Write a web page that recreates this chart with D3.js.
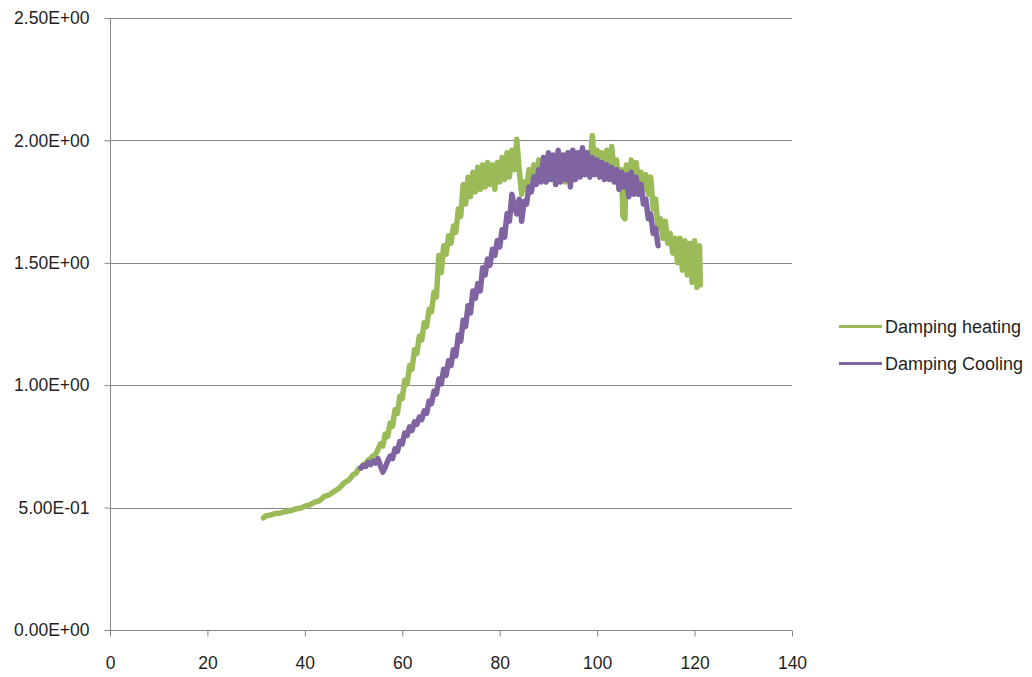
<!DOCTYPE html>
<html>
<head>
<meta charset="utf-8">
<script src="https://cdn.jsdelivr.net/npm/d3@7"></script>
<style>
  html, body { margin: 0; padding: 0; background: #fff; }
  svg { display: block; }
</style>
</head>
<body>
<svg id="chart" width="1032" height="677"></svg>
<script>
// Damping vs temperature, heating and cooling runs
const seriesNames = ["Damping heating", "Damping Cooling"];
const seriesColors = ["#9BBB59", "#8064A2"];

const heatingTemp = [
  31.5,32,33,34,35,36,37,38,39,40,41,42,43,44,45,46,47,48,49,50,
  50.5,51,51.5,52,52.5,53,53.5,54,54.5,55,55.5,56,56.5,57,57.5,58,58.5,59,59.5,60,
  60.5,61,61.5,62,62.5,63,63.5,64,64.5,65,65.5,66,66.5,67,67.5,68,68.5,69,69.5,70,
  70.5,71,71.5,72,72.5,73,73.5,74,74.5,75,75.5,76,76.5,77,77.5,78,78.5,79,79.5,80,
  80.5,81,81.5,82,82.5,83,83.5,84,84.5,85,85.5,86,86.5,87,87.5,88,88.5,89,89.5,90,
  90.5,91,91.5,92,92.5,93,93.5,94,94.5,95,95.5,96,96.5,97,97.5,98,98.5,99,99.5,100,
  100.5,101,101.5,102,102.5,103,103.5,104,104.5,105,105.3,105.7,106,106.5,107,107.5,108,108.5,109,109.5,110,
  110.5,111,111.5,112,112.5,113,113.5,114,114.5,115,115.5,116,116.5,117,117.5,118,118.5,119,119.5,120,
  120.5,121,121.2
];
const heatingDamping = [
  0.458,0.466,0.470,0.476,0.478,0.484,0.487,0.494,0.497,0.506,0.511,0.522,0.528,0.546,0.552,0.566,0.578,0.600,0.612,0.636,
  0.640,0.658,0.662,0.676,0.680,0.694,0.700,0.712,0.716,0.736,0.760,0.752,0.800,0.790,0.845,0.832,0.900,0.885,0.955,0.945,
  1.020,1.005,1.080,1.065,1.145,1.130,1.200,1.185,1.255,1.240,1.310,1.300,1.380,1.360,1.530,1.460,1.570,1.535,1.610,1.580,
  1.650,1.625,1.720,1.690,1.820,1.740,1.850,1.770,1.870,1.790,1.890,1.800,1.900,1.810,1.910,1.820,1.900,1.800,1.910,1.830,
  1.930,1.840,1.950,1.850,1.960,1.880,2.005,1.880,1.780,1.830,1.800,1.880,1.850,1.900,1.860,1.920,1.840,1.930,1.830,1.920,
  1.850,1.930,1.820,1.920,1.840,1.940,1.830,1.950,1.850,1.960,1.840,1.950,1.860,1.960,1.870,1.950,1.880,2.020,1.900,1.960,
  1.880,1.950,1.890,1.960,1.880,1.975,1.860,1.920,1.800,1.880,1.690,1.680,1.900,1.830,1.920,1.840,1.910,1.830,1.870,1.800,1.860,
  1.780,1.850,1.720,1.760,1.640,1.680,1.600,1.670,1.580,1.620,1.540,1.600,1.500,1.600,1.470,1.590,1.450,1.580,1.420,1.590,
  1.400,1.570,1.410
];

const coolingTemp = [
  51.5,52,52.5,53,53.5,54,54.5,55,55.5,56,56.5,57,57.5,58,58.5,59,59.5,60,
  60.5,61,61.5,62,62.5,63,63.5,64,64.5,65,65.5,66,66.5,67,67.5,68,68.5,69,69.5,70,
  70.5,71,71.5,72,72.5,73,73.5,74,74.5,75,75.5,76,76.5,77,77.5,78,78.5,79,79.5,80,
  80.5,81,81.5,82,82.5,83,83.5,84,84.5,85,85.5,86,86.5,87,87.5,88,88.5,89,89.5,90,
  90.5,91,91.5,92,92.5,93,93.5,94,94.5,95,95.5,96,96.5,97,97.5,98,98.5,99,99.5,100,
  100.5,101,101.5,102,102.5,103,103.5,104,104.5,105,105.5,106,106.5,107,107.5,108,108.5,109,109.5,110,
  110.5,111,111.5,112,112.5
];
const coolingDamping = [
  0.662,0.672,0.668,0.684,0.676,0.690,0.682,0.700,0.672,0.645,0.665,0.690,0.710,0.700,0.740,0.730,0.770,0.760,
  0.805,0.795,0.830,0.815,0.850,0.840,0.870,0.860,0.895,0.885,0.935,0.925,0.975,0.965,1.025,1.005,1.065,1.040,1.100,1.080,
  1.145,1.120,1.205,1.180,1.265,1.240,1.325,1.295,1.385,1.355,1.415,1.385,1.480,1.450,1.515,1.490,1.555,1.530,1.590,1.565,
  1.635,1.605,1.700,1.670,1.780,1.730,1.700,1.760,1.670,1.750,1.740,1.810,1.790,1.850,1.820,1.880,1.830,1.930,1.830,1.950,
  1.840,1.940,1.820,1.960,1.830,1.940,1.840,1.950,1.810,1.960,1.840,1.950,1.850,1.970,1.860,1.950,1.850,1.930,1.860,1.920,
  1.850,1.910,1.840,1.900,1.840,1.890,1.830,1.880,1.800,1.870,1.810,1.860,1.770,1.870,1.780,1.850,1.780,1.820,1.740,1.760,
  1.680,1.700,1.620,1.640,1.570
];

const xTicks = [0, 20, 40, 60, 80, 100, 120, 140];
const yTicks = [0, 0.5, 1.0, 1.5, 2.0, 2.5];
const yTickLabels = ["0.00E+00", "5.00E-01", "1.00E+00", "1.50E+00", "2.00E+00", "2.50E+00"];

const svg = d3.select("#chart");
const plot = { left: 110, right: 792, top: 18, bottom: 630 };

const x = d3.scaleLinear().domain([0, 140]).range([plot.left, plot.right]);
const y = d3.scaleLinear().domain([0, 2.5]).range([plot.bottom, plot.top]);

const axisColor = "#868686";
const textColor = "#1f1f1f";
const font = "'Liberation Sans', Arial, sans-serif";

// horizontal gridlines
svg.append("g")
  .selectAll("line")
  .data(yTicks.filter(d => d > 0))
  .join("line")
  .attr("x1", plot.left).attr("x2", plot.right)
  .attr("y1", d => Math.round(y(d)) + 0.5).attr("y2", d => Math.round(y(d)) + 0.5)
  .attr("stroke", axisColor).attr("stroke-width", 1);

// y axis
const yAxis = svg.append("g")
  .attr("transform", `translate(${plot.left + 0.5},0)`)
  .call(d3.axisLeft(y).tickValues(yTicks).tickSize(6).tickPadding(15)
    .tickFormat((d, i) => yTickLabels[i]));
yAxis.select(".domain").attr("stroke", axisColor).attr("d", `M0,${plot.top}V${plot.bottom}`);
yAxis.selectAll(".tick line").attr("stroke", axisColor);
yAxis.selectAll(".tick text").attr("fill", textColor).style("font", `17.5px ${font}`);

// x axis
const xAxis = svg.append("g")
  .attr("transform", `translate(0,${plot.bottom + 0.5})`)
  .call(d3.axisBottom(x).tickValues(xTicks).tickSize(6).tickPadding(20).tickFormat(d3.format("d")));
xAxis.select(".domain").attr("stroke", axisColor).attr("d", `M${plot.left},0H${plot.right}`);
xAxis.selectAll(".tick line").attr("stroke", axisColor);
xAxis.selectAll(".tick text").attr("fill", textColor).style("font", `17.5px ${font}`);

// data lines
const series = [
  { name: seriesNames[0], color: seriesColors[0], temp: heatingTemp, val: heatingDamping },
  { name: seriesNames[1], color: seriesColors[1], temp: coolingTemp, val: coolingDamping }
];

const line = d3.line()
  .x(d => x(d[0]))
  .y(d => y(d[1]));

svg.append("g")
  .selectAll("path")
  .data(series)
  .join("path")
  .attr("d", s => line(s.temp.map((t, i) => [t, s.val[i]])))
  .attr("fill", "none")
  .attr("stroke", s => s.color)
  .attr("stroke-width", 5.5)
  .attr("stroke-linejoin", "round")
  .attr("stroke-linecap", "round");

// legend
const legend = svg.append("g").attr("transform", "translate(839,326.5)");
const items = legend.selectAll("g")
  .data(series)
  .join("g")
  .attr("transform", (d, i) => `translate(0,${i * 37})`);
items.append("line")
  .attr("x1", 0).attr("x2", 43).attr("y1", 0).attr("y2", 0)
  .attr("stroke", d => d.color).attr("stroke-width", 3);
items.append("text")
  .attr("x", 46).attr("y", 0).attr("dy", "0.35em")
  .attr("fill", textColor)
  .style("font", `18px ${font}`)
  .text(d => d.name);
</script>
</body>
</html>
